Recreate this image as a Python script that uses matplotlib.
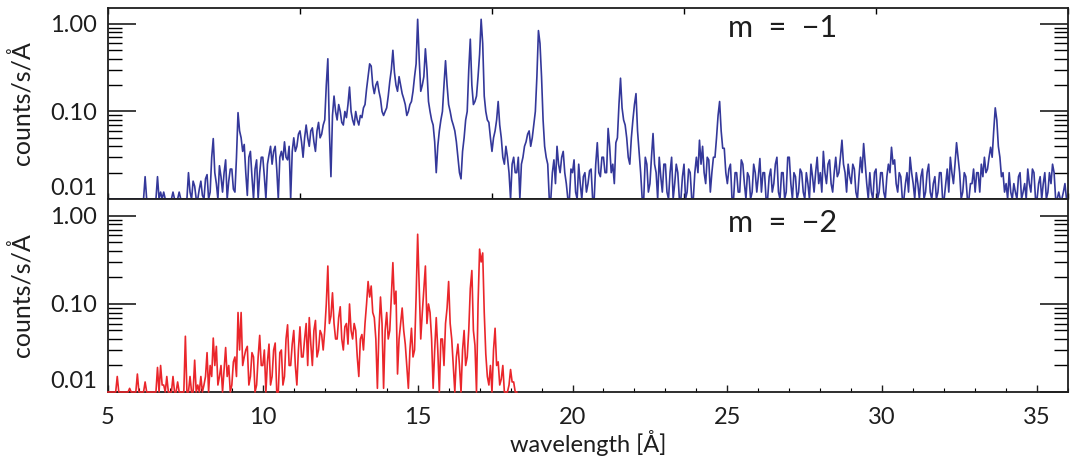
import numpy as np
import matplotlib
matplotlib.use("Agg")
import matplotlib.pyplot as plt
from matplotlib.ticker import FixedLocator, LogLocator, NullFormatter, NullLocator, MultipleLocator

plt.rcParams['font.family'] = ['Lato', 'DejaVu Sans']

# grid start / step of the spectra (Angstrom)
wave_start = 5.0
wave_step = 0.05

# m = -1 order, counts/s/A, one row per Angstrom (5.x ... 35.x, then 36.0)
flux_m1 = [
    .01, .01, .01, .01, .01, .01, .01, .01, .01, .01, .01, .01, .01, .01, .01, .01, .01, .01, .01, .01,
    .01, .01, .01, .01, .018, .01, .01, .01, .01, .01, .01, .01, .018, .01, .012, .01, .012, .01, .01, .01,
    .01, .01, .012, .01, .01, .01, .012, .01, .01, .01, .01, .01, .02, .012, .01, .016, .014, .01, .01, .013,
    .016, .011, .01, .017, .019, .01, .012, .03, .049, .02, .015, .01, .024, .018, .012, .02, .028, .01, .016, .022,
    .022, .013, .012, .03, .097, .06, .05, .035, .042, .02, .011, .03, .035, .018, .01, .022, .028, .01, .02, .03,
    .03, .018, .01, .025, .032, .04, .025, .035, .04, .022, .01, .03, .035, .028, .045, .03, .028, .04, .01, .035,
    .05, .035, .04, .055, .06, .045, .03, .05, .07, .05, .04, .06, .065, .045, .035, .06, .075, .05, .055, .07,
    .08, .2, .40, .06, .018, .09, .15, .1, .08, .12, .10, .075, .07, .1, .085, .12, .19, .1, .08, .07,
    .10, .08, .07, .09, .085, .11, .12, .18, .25, .35, .33, .2, .16, .2, .22, .17, .14, .1, .09, .1,
    .11, .15, .22, .3, .50, .28, .20, .17, .25, .2, .16, .14, .12, .09, .10, .12, .13, .17, .25, .35,
    1.13, .4, .17, .2, .25, .52, .3, .13, .10, .08, .07, .045, .02, .04, .06, .08, .10, .2, .38, .2,
    .12, .1, .08, .07, .06, .045, .03, .02, .017, .035, .05, .08, .10, .3, .67, .2, .12, .13, .15, .25,
    .45, 1.13, .6, .15, .1, .08, .075, .05, .035, .05, .06, .08, .13, .07, .05, .03, .025, .04, .03, .02,
    .01, .025, .03, .02, .02, .03, .01, .025, .03, .04, .045, .055, .06, .04, .05, .07, .10, .25, .84, .6,
    .25, .08, .04, .03, .025, .01, .01, .02, .028, .015, .04, .025, .02, .03, .035, .02, .015, .01, .01, .022,
    .02, .028, .012, .01, .025, .015, .01, .018, .02, .012, .015, .021, .022, .01, .01, .025, .044, .02, .018, .03,
    .03, .02, .02, .064, .04, .02, .025, .015, .044, .05, .12, .24, .11, .08, .07, .05, .03, .025, .05, .08,
    .12, .16, .06, .035, .02, .01, .01, .03, .025, .012, .015, .03, .056, .025, .02, .01, .03, .018, .012, .025,
    .025, .012, .01, .02, .03, .01, .015, .025, .02, .01, .01, .018, .025, .01, .012, .022, .02, .01, .01, .02,
    .03, .02, .047, .025, .04, .02, .015, .03, .028, .012, .02, .03, .03, .05, .09, .13, .06, .038, .038, .02,
    .015, .022, .025, .01, .01, .02, .02, .012, .012, .028, .025, .015, .01, .02, .018, .01, .012, .025, .02, .012,
    .018, .029, .012, .02, .02, .01, .01, .018, .022, .012, .015, .025, .03, .012, .01, .02, .02, .01, .012, .03,
    .03, .015, .01, .02, .018, .01, .012, .022, .02, .012, .01, .02, .015, .01, .025, .018, .012, .02, .03, .015,
    .02, .012, .035, .02, .015, .025, .028, .015, .012, .02, .03, .018, .02, .03, .047, .025, .02, .012, .025, .018,
    .015, .025, .022, .012, .01, .018, .03, .02, .043, .025, .015, .01, .02, .012, .01, .02, .022, .01, .012, .02,
    .02, .012, .01, .018, .025, .02, .039, .025, .028, .015, .012, .02, .018, .01, .01, .015, .02, .012, .03, .02,
    .015, .01, .02, .015, .01, .018, .022, .01, .012, .02, .025, .012, .01, .015, .018, .01, .012, .02, .02, .01,
    .01, .015, .022, .012, .03, .02, .015, .025, .044, .03, .02, .01, .012, .02, .018, .01, .01, .015, .015, .022,
    .012, .02, .02, .012, .025, .018, .03, .02, .022, .03, .039, .03, .06, .11, .08, .04, .03, .018, .02, .012,
    .015, .01, .02, .012, .01, .015, .012, .01, .018, .02, .01, .012, .015, .01, .022, .015, .012, .022, .02, .01,
    .01, .015, .018, .01, .015, .02, .01, .012, .02, .015, .025, .02, .01, .01, .012, .01, .01, .012, .015, .01,
    .01,
]

# m = -2 order, counts/s/A (5.x ... 17.x, then 18.0-18.2)
flux_m2 = [
    .01, .01, .01, .01, .01, .01, .015, .01, .01, .01, .01, .01, .01, .01, .011, .01, .01, .01, .01, .016,
    .01, .01, .01, .01, .013, .01, .01, .01, .01, .01, .01, .01, .019, .01, .02, .012, .012, .01, .015, .01,
    .01, .01, .015, .01, .01, .013, .01, .01, .01, .01, .043, .01, .01, .015, .01, .01, .023, .01, .012, .01,
    .015, .01, .012, .015, .028, .01, .02, .015, .041, .02, .033, .012, .015, .02, .01, .018, .032, .015, .02, .01,
    .012, .022, .025, .015, .08, .03, .08, .02, .025, .03, .033, .012, .015, .028, .025, .01, .012, .025, .044, .02,
    .02, .03, .01, .022, .035, .012, .015, .03, .036, .01, .01, .028, .03, .012, .015, .04, .058, .02, .02, .035,
    .05, .02, .012, .03, .055, .025, .025, .04, .06, .02, .07, .035, .02, .05, .065, .025, .03, .05, .045, .03,
    .05, .1, .27, .06, .073, .134, .06, .04, .04, .07, .093, .04, .03, .055, .06, .035, .10, .05, .04, .06,
    .05, .025, .015, .04, .045, .03, .06, .1, .18, .12, .16, .08, .07, .04, .011, .05, .12, .06, .011, .05,
    .08, .04, .05, .12, .295, .1, .14, .016, .04, .06, .09, .05, .035, .02, .011, .03, .053, .025, .03, .12,
    .62, .15, .04, .08, .15, .27, .06, .1, .08, .04, .011, .03, .07, .03, .01, .04, .04, .02, .06, .09,
    .18, .06, .04, .02, .01, .025, .035, .02, .01, .03, .05, .02, .025, .05, .15, .24, .05, .034, .01, .1,
    .42, .3, .38, .08, .027, .015, .012, .02, .01, .03, .053, .02, .022, .012, .014, .02, .01, .01, .01, .012,
    .018, .013, .013, .01, .01,
]

yticks = [0.01, 0.1, 1.0]
ytick_labels = ['0.01', '0.10', '1.00']
panel_labels = ['m  =  \u22121', 'm  =  \u22122']

blue = '#34389a'
red = '#ea262b'
ink = '#1e1e1e'

fig = plt.figure(figsize=(10.72, 4.61), dpi=100)
ax1 = fig.add_axes([0.1007, 0.5683, 0.8956, 0.4143])
ax2 = fig.add_axes([0.1007, 0.1497, 0.8956, 0.4187])

wave1 = wave_start + wave_step * np.arange(len(flux_m1))
wave2 = wave_start + wave_step * np.arange(len(flux_m2))

# values below 0.01 sit on the bottom axis, drawn over the frame like the original
ax1.plot(wave1, np.clip(flux_m1, 0.01, None), color=blue, lw=1.2, clip_on=False, zorder=3)
ax2.plot(wave2, np.clip(flux_m2, 0.01, None), color=red, lw=1.2, clip_on=False, zorder=3)

for ax, lab, ytop, ylab in [(ax1, panel_labels[0], 1.52, 0.848), (ax2, panel_labels[1], 1.56, 0.829)]:
    ax.set_yscale('log')
    ax.set_xlim(5, 36)
    ax.set_ylim(0.01, ytop)
    ax.yaxis.set_major_locator(FixedLocator(yticks))
    ax.set_yticklabels(ytick_labels)
    ax.get_yticklabels()[0].set_va('bottom')
    ax.yaxis.set_minor_locator(LogLocator(base=10, subs=np.arange(2, 10)))
    ax.yaxis.set_minor_formatter(NullFormatter())
    ax.tick_params(axis='y', which='major', direction='in', length=20, width=1.2,
                   left=True, right=True, labelsize=17, pad=8, colors=ink)
    ax.tick_params(axis='y', which='minor', direction='in', length=10, width=1.0,
                   left=True, right=True)
    ax.set_ylabel('counts/s/\u00c5', fontsize=18, labelpad=12, color=ink)
    for s in ax.spines.values():
        s.set_linewidth(1.3)
        s.set_color(ink)
    ax.text(0.646, ylab, lab, transform=ax.transAxes, fontsize=22,
            ha='left', va='baseline', color=ink)

# top panel: unlabeled ticks splitting the axis into five
ax1.xaxis.set_major_locator(FixedLocator(np.linspace(5, 36, 6)))
ax1.xaxis.set_minor_locator(NullLocator())
ax1.tick_params(axis='x', which='major', direction='in', length=4, width=1.0,
                top=True, bottom=True, labelbottom=False)

ax2.xaxis.set_major_locator(MultipleLocator(5))
ax2.xaxis.set_minor_locator(MultipleLocator(1))
ax2.tick_params(axis='x', which='major', direction='in', length=5, width=1.0,
                labelsize=17, pad=11, colors=ink)
ax2.tick_params(axis='x', which='minor', direction='in', length=3, width=0.8)
ax2.set_xlabel('wavelength [\u00c5]', fontsize=17, labelpad=1, color=ink)

fig.savefig('out.png', dpi=100)
